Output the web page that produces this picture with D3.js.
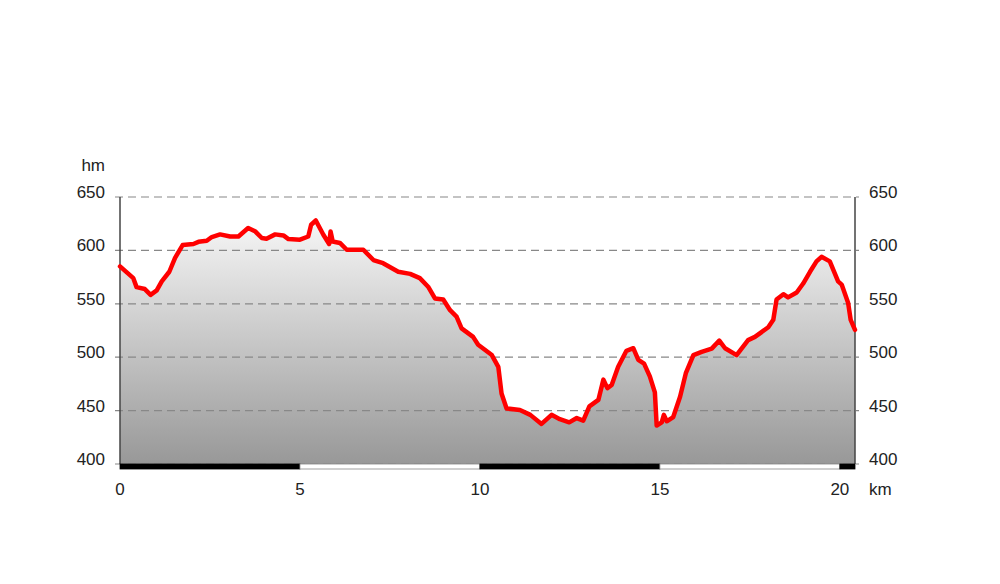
<!DOCTYPE html>
<html><head><meta charset="utf-8">
<script src="https://cdn.jsdelivr.net/npm/d3@7"></script>
<style>html,body{margin:0;padding:0;background:#fff;}</style>
</head><body>
<svg id="chart" width="1000" height="584"></svg>
<script>
const distances = [0, 0.37, 0.46, 0.69, 0.85, 1.02, 1.16, 1.37, 1.53, 1.74, 2.04, 2.18, 2.41, 2.55, 2.78, 3.06, 3.29, 3.56, 3.75, 3.94, 4.07, 4.31, 4.54, 4.68, 5.0, 5.23, 5.31, 5.44, 5.65, 5.81, 5.85, 5.91, 6.11, 6.3, 6.67, 6.76, 7.04, 7.31, 7.73, 8.06, 8.33, 8.56, 8.75, 8.98, 9.17, 9.35, 9.49, 9.81, 9.95, 10.33, 10.51, 10.6, 10.74, 11.11, 11.4, 11.71, 11.99, 12.22, 12.48, 12.69, 12.87, 13.04, 13.29, 13.43, 13.54, 13.66, 13.84, 14.07, 14.26, 14.4, 14.56, 14.72, 14.86, 14.91, 15.05, 15.11, 15.19, 15.37, 15.56, 15.72, 15.93, 16.16, 16.44, 16.65, 16.81, 17.13, 17.45, 17.64, 18.01, 18.15, 18.24, 18.43, 18.56, 18.8, 18.98, 19.17, 19.35, 19.49, 19.72, 19.95, 20.05, 20.23, 20.3, 20.42];
const elevations = [585, 574, 565.6, 563.8, 558.4, 562.5, 571, 580, 593, 605, 606, 608, 609, 612.5, 615, 613, 613, 621, 618, 611.6, 611, 615, 614, 610.6, 610, 613, 624, 628, 614.7, 606, 617.8, 608.4, 607, 600.6, 600.6, 600.6, 591, 588, 580, 578, 574, 566, 555, 554, 544, 538, 527, 519, 511.6, 502, 491, 466, 452, 450.6, 446, 437.5, 446, 442, 439, 443, 440.6, 454, 460, 479, 471, 474, 491, 506, 508.4, 497.5, 494, 482, 467, 436, 439, 446, 440, 444, 463, 485, 502, 505, 508, 515.6, 508.4, 502, 516, 519, 528, 535, 554, 559, 556, 560.6, 569, 580, 589.7, 594, 589.7, 571, 568, 550.7, 535, 525.6];
const yTicks = [400, 450, 500, 550, 600, 650];
const xTicks = [0, 5, 10, 15, 20];
const yUnit = "hm";
const xUnit = "km";

const data = distances.map((d, i) => ({d, e: elevations[i]}));
const svg = d3.select("#chart");
const xMax = distances[distances.length - 1];
const x = d3.scaleLinear().domain([0, xMax]).range([120, 855]);
const y = d3.scaleLinear().domain([400, 650]).range([464, 197]);
const font = "'Liberation Sans', Arial, sans-serif";

const defs = svg.append("defs");
const grad = defs.append("linearGradient").attr("id", "fillGrad")
  .attr("x1", 0).attr("y1", 0).attr("x2", 0).attr("y2", 1)
  .attr("gradientUnits", "userSpaceOnUse")
  .attr("x1", 0).attr("y1", y(650)).attr("x2", 0).attr("y2", y(400));
grad.append("stop").attr("offset", "0%").attr("stop-color", "#ffffff");
grad.append("stop").attr("offset", "100%").attr("stop-color", "#989898");

// area
svg.append("path").datum(data)
  .attr("fill", "url(#fillGrad)")
  .attr("d", d3.area().x(p => x(p.d)).y0(y(400)).y1(p => y(p.e)));

// grid lines
svg.append("g").selectAll("line").data(yTicks).join("line")
  .attr("x1", 115).attr("x2", 859)
  .attr("y1", v => y(v)).attr("y2", v => y(v))
  .attr("stroke", "#888").attr("stroke-width", 1.2)
  .attr("stroke-dasharray", "8,5");

// axis lines
svg.append("line").attr("x1", x(0)).attr("x2", x(0)).attr("y1", y(650)).attr("y2", y(400))
  .attr("stroke", "#444").attr("stroke-width", 1.5);
svg.append("line").attr("x1", x(xMax)).attr("x2", x(xMax)).attr("y1", y(650)).attr("y2", y(400))
  .attr("stroke", "#444").attr("stroke-width", 1.5);

// scale bar
const segs = [];
for (let s = 0; s < xMax; s += 5) segs.push([s, Math.min(s + 5, xMax)]);
svg.append("g").selectAll("rect").data(segs).join("rect")
  .attr("x", s => x(s[0])).attr("width", s => x(s[1]) - x(s[0]))
  .attr("y", y(400)).attr("height", 5)
  .attr("fill", (s, i) => i % 2 === 0 ? "#000" : "#fff")
  .attr("stroke", (s, i) => i % 2 === 0 ? "#000" : "#888")
  .attr("stroke-width", 0.8);

// profile line
svg.append("path").datum(data)
  .attr("fill", "none").attr("stroke", "#ff0000").attr("stroke-width", 4.5)
  .attr("stroke-linejoin", "round").attr("stroke-linecap", "round")
  .attr("d", d3.line().x(p => x(p.d)).y(p => y(p.e)));

// labels
const lbl = svg.append("g").attr("font-family", font).attr("font-size", 17).attr("fill", "#222");
lbl.selectAll("text.yl").data(yTicks).join("text").attr("class", "yl")
  .attr("x", 105).attr("y", v => y(v) + 1).attr("text-anchor", "end").text(v => v);
lbl.selectAll("text.yr").data(yTicks).join("text").attr("class", "yr")
  .attr("x", 869).attr("y", v => y(v) + 1).attr("text-anchor", "start").text(v => v);
lbl.selectAll("text.xl").data(xTicks).join("text").attr("class", "xl")
  .attr("x", v => x(v)).attr("y", 495).attr("text-anchor", "middle").text(v => v);
lbl.append("text").attr("x", 105).attr("y", 171).attr("text-anchor", "end").text(yUnit);
lbl.append("text").attr("x", 869).attr("y", 495).attr("text-anchor", "start").text(xUnit);
</script>
</body></html>
